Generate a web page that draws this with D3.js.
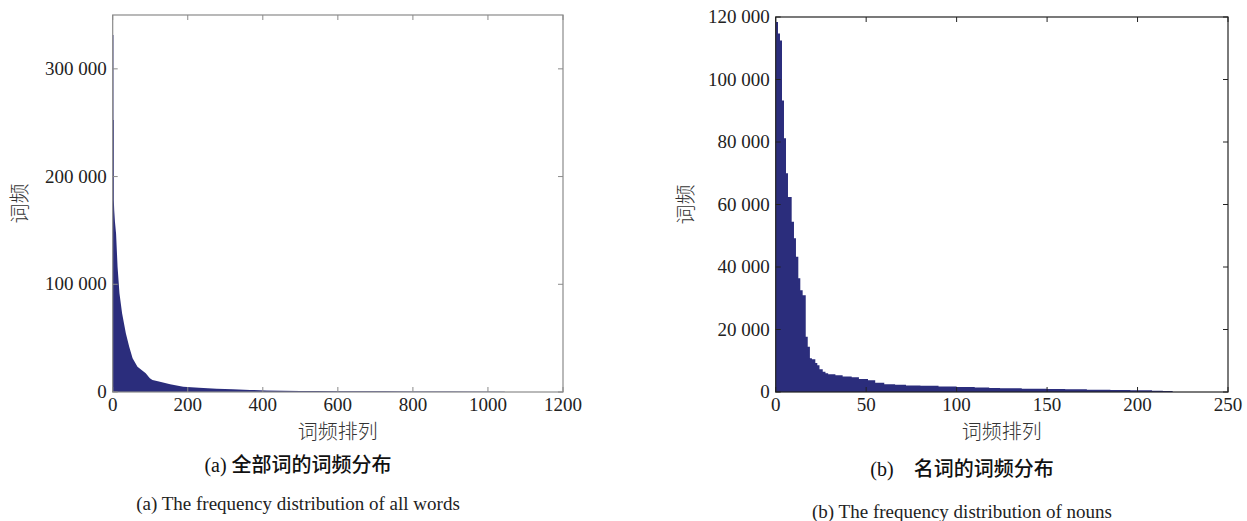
<!DOCTYPE html>
<html lang="zh">
<head>
<meta charset="UTF-8">
<title>词频分布</title>
<script src="https://d3js.org/d3.v7.min.js"></script>
<style>
  body { margin: 0; background: #fff; }
  svg { display: block; }
  .num { font-family: "Liberation Serif", "Times New Roman", serif; font-size: 19px; fill: #222; }
  .cn { font-family: "Noto Sans CJK SC", sans-serif; }
</style>
</head>
<body>
<svg width="1247" height="521" id="canvas"></svg>
<script>
// (a) all words: rank -> frequency
const allRank = [0, 2, 2, 3, 3, 4, 6, 9, 13, 18, 25, 35, 44, 53, 66, 77, 88, 99, 106, 126, 153, 188, 230, 277, 320, 366, 410, 454, 500, 543, 600, 727, 800, 900, 1045, 1045];
const allFreq = [331500, 331500, 252500, 252500, 178000, 169000, 158000, 147000, 116000, 91600, 73000, 54500, 42000, 31300, 23500, 20500, 17400, 12700, 11100, 9600, 7100, 4900, 4000, 3100, 2500, 1900, 1500, 1200, 1000, 900, 800, 600, 450, 350, 300, 0];

// (b) nouns: step start -> frequency
const nounRank = [0, 1.27, 2.37, 3.48, 4.58, 5.69, 6.79, 8.83, 10.1, 11.2, 12.5, 13.6, 14.9, 16.6, 17.7, 18.9, 20, 21.9, 23, 24.2, 26, 27.5, 29, 33, 37, 42, 46, 51, 55, 60, 66, 72, 80, 90, 100, 110, 118, 124, 136, 150, 160, 172, 185, 196, 208, 214, 219.4];
const nounFreq = [118400, 114700, 112500, 93300, 81200, 70000, 62400, 54500, 49200, 43300, 36400, 32600, 31000, 17700, 14500, 10800, 10500, 9300, 8600, 7300, 6500, 6000, 5700, 5400, 5000, 4700, 4200, 3800, 3000, 2500, 2300, 2100, 2000, 1800, 1600, 1450, 1300, 1180, 1050, 960, 850, 740, 640, 540, 430, 320, 0];

const allXTicks = [0, 200, 400, 600, 800, 1000, 1200];
const allYTicks = [0, 100000, 200000, 300000];
const nounXTicks = [0, 50, 100, 150, 200, 250];
const nounYTicks = [0, 20000, 40000, 60000, 80000, 100000, 120000];

const svg = d3.select("svg");
const fillColor = "#2b2d7c";
const fmt = v => v === 0 ? "0" : d3.format(",")(v).replace(/,/g, " ");

function panel(opt) {
  const x = d3.scaleLinear().domain(opt.xDomain).range([opt.left, opt.right]);
  const y = d3.scaleLinear().domain(opt.yDomain).range([opt.bottom, opt.top]);
  const g = svg.append("g");

  const pts = opt.ranks.map((r, i) => [r, opt.freqs[i]]);
  g.append("path")
    .datum(pts)
    .attr("fill", fillColor)
    .attr("d", d3.area().x(d => x(d[0])).y0(y(0)).y1(d => y(d[1])).curve(opt.curve));

  // frame
  g.append("rect")
    .attr("x", opt.left).attr("y", opt.top)
    .attr("width", opt.right - opt.left).attr("height", opt.bottom - opt.top)
    .attr("fill", "none").attr("stroke", opt.frame).attr("stroke-width", 1.2);

  // ticks inward on all sides
  const tl = 5;
  opt.xTicks.forEach(t => {
    g.append("line").attr("x1", x(t)).attr("x2", x(t)).attr("y1", opt.bottom).attr("y2", opt.bottom - tl).attr("stroke", opt.frame);
    g.append("line").attr("x1", x(t)).attr("x2", x(t)).attr("y1", opt.top).attr("y2", opt.top + tl).attr("stroke", opt.frame);
    g.append("text").attr("class", "num").attr("x", x(t)).attr("y", opt.bottom + 19)
      .attr("text-anchor", "middle").text(t);
  });
  opt.yTicks.forEach(t => {
    g.append("line").attr("x1", opt.left).attr("x2", opt.left + tl).attr("y1", y(t)).attr("y2", y(t)).attr("stroke", opt.frame);
    g.append("line").attr("x1", opt.right).attr("x2", opt.right - tl).attr("y1", y(t)).attr("y2", y(t)).attr("stroke", opt.frame);
    g.append("text").attr("class", "num").attr("x", opt.left - 6).attr("y", y(t) + 6)
      .attr("text-anchor", "end").text(fmt(t));
  });

  // axis titles
  g.append("text").attr("class", "cn").attr("font-size", 20).attr("font-weight", 300).attr("fill", "#333")
    .attr("text-anchor", "middle")
    .attr("transform", `translate(${opt.yLabelX},${(opt.top + opt.bottom) / 2}) rotate(-90)`)
    .text("词频");
  g.append("text").attr("class", "cn").attr("font-size", 20).attr("font-weight", 300).attr("fill", "#333")
    .attr("text-anchor", "middle")
    .attr("x", (opt.left + opt.right) / 2).attr("y", opt.bottom + 47)
    .text("词频排列");

  // captions
  const c1 = g.append("text").attr("font-size", 20).attr("fill", "#111")
    .attr("text-anchor", "middle").attr("x", opt.capX).attr("y", opt.cap1Y);
  c1.append("tspan").attr("font-family", "Liberation Serif, serif").text(opt.cap1[0]);
  c1.append("tspan").attr("class", "cn").attr("font-weight", 500).text(opt.cap1[1]);
  g.append("text").attr("class", "num").attr("font-size", 17.5).attr("fill", "#111")
    .attr("text-anchor", "middle").attr("x", opt.capX).attr("y", opt.cap2Y)
    .text(opt.cap2);
}

panel({
  left: 112.7, right: 563, top: 15, bottom: 392,
  xDomain: [0, 1200], yDomain: [0, 350000],
  ranks: allRank, freqs: allFreq, curve: d3.curveLinear,
  xTicks: allXTicks, yTicks: allYTicks,
  frame: "#8a8a8a", yLabelX: 27,
  capX: 298, cap1Y: 472, cap2Y: 510,
  cap1: ["(a) ", "全部词的词频分布"],
  cap2: "(a) The frequency distribution of all words"
});

panel({
  left: 775.7, right: 1228, top: 17, bottom: 392,
  xDomain: [0, 250], yDomain: [0, 120000],
  ranks: nounRank, freqs: nounFreq, curve: d3.curveStepAfter,
  xTicks: nounXTicks, yTicks: nounYTicks,
  frame: "#222", yLabelX: 693,
  capX: 962, cap1Y: 476, cap2Y: 518,
  cap1: ["(b)\u2003", "名词的词频分布"],
  cap2: "(b) The frequency distribution of nouns"
});
</script>
</body>
</html>
